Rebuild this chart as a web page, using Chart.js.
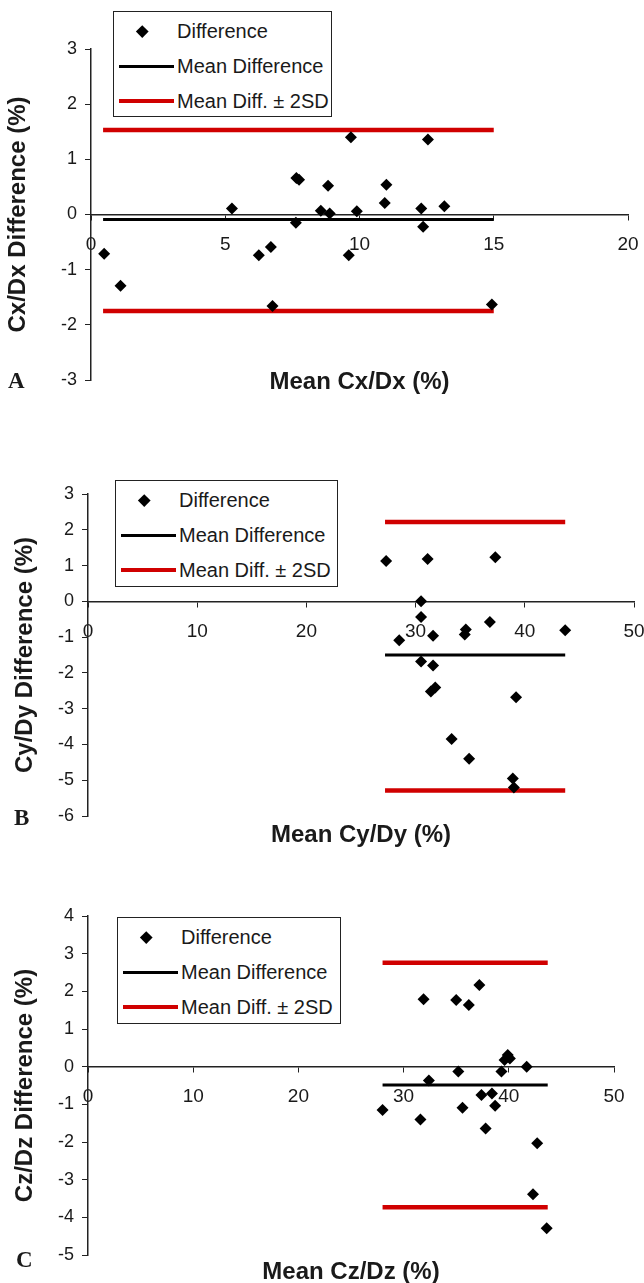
<!DOCTYPE html>
<html lang="en">
<head>
    <meta charset="UTF-8">
    <title>Difference vs Mean plots</title>
    <style>
        body {
            margin: 0;
            background-color: #fff;
            font-family: Arial, "Liberation Sans", sans-serif;
            color: #1a1a1a;
        }
        .panel {
            position: relative;
            width: 644px;
        }
        .panel canvas {
            display: block;
        }
        .letter {
            position: absolute;
            font-family: "Times New Roman", "Liberation Serif", serif;
            font-weight: bold;
            font-size: 23px;
            line-height: 24px;
        }
        .legend {
            position: absolute;
            box-sizing: border-box;
            border: 1.5px solid #222;
            background-color: #fff;
        }
        .legend .row {
            position: absolute;
            left: 0;
            width: 100%;
            height: 24px;
            line-height: 24px;
            font-size: 20px;
        }
        .legend .diamond {
            position: absolute;
            left: 24px;
            top: 7.5px;
            width: 8.5px;
            height: 8.5px;
            background-color: #000;
            transform: rotate(45deg);
        }
        .legend .line {
            position: absolute;
            left: 5px;
            width: 55px;
        }
        .legend .text {
            position: absolute;
            left: 63px;
            white-space: nowrap;
        }
    </style>
</head>
<body>
    <div class="panel" style="height: 420px;">
        <canvas id="chartA" width="644" height="420"></canvas>
        <div class="letter" style="left: 8px; top: 369px;">A</div>
    </div>
    <div class="panel" style="height: 430px;">
        <canvas id="chartB" width="644" height="430"></canvas>
        <div class="letter" style="left: 14px; top: 386px;">B</div>
    </div>
    <div class="panel" style="height: 433px;">
        <canvas id="chartC" width="644" height="433"></canvas>
        <div class="letter" style="left: 16px; top: 398px;">C</div>
    </div>

    <script src="https://cdn.jsdelivr.net/npm/chart.js"></script>
    <script>
        // Panel A: Cx/Dx
        const meanCxDx = [0.49, 1.1, 5.25, 6.25, 6.7, 6.76, 7.63, 7.65, 7.75, 8.56, 8.83, 8.89, 9.6, 9.68, 9.9, 10.94, 11.0, 12.3, 12.37, 12.55, 13.16, 14.93];
        const diffCxDx = [-0.71, -1.29, 0.11, -0.74, -0.59, -1.66, -0.15, 0.66, 0.63, 0.07, 0.52, 0.02, -0.74, 1.40, 0.06, 0.21, 0.54, 0.11, -0.22, 1.36, 0.15, -1.63];
        const rangeCxDx = [0.45, 15.0];
        const meanDiffCxDx = -0.09;
        const limitsCxDx = [1.53, -1.75];

        // Panel B: Cy/Dy
        const meanCyDy = [27.3, 28.5, 30.5, 30.5, 30.5, 31.1, 31.6, 31.6, 31.4, 31.8, 33.3, 34.5, 34.6, 34.9, 36.8, 37.3, 38.9, 39.0, 39.2, 43.7];
        const diffCyDy = [1.13, -1.09, 0.0, -0.44, -1.68, 1.18, -0.96, -1.79, -2.52, -2.41, -3.85, -0.93, -0.79, -4.40, -0.58, 1.23, -4.95, -5.20, -2.68, -0.81];
        const rangeCyDy = [27.2, 43.7];
        const meanDiffCyDy = -1.5;
        const limitsCyDy = [2.22, -5.29];

        // Panel C: Cz/Dz
        const meanCzDz = [28.0, 31.6, 31.9, 32.4, 35.0, 35.2, 35.6, 36.2, 37.2, 37.4, 37.8, 38.4, 38.7, 39.3, 39.6, 39.9, 40.1, 41.7, 42.3, 42.7, 43.6];
        const diffCzDz = [-1.15, -1.40, 1.79, -0.37, 1.77, -0.13, -1.09, 1.64, 2.17, -0.75, -1.64, -0.71, -1.04, -0.13, 0.18, 0.31, 0.22, 0.0, -3.39, -2.03, -4.29];
        const rangeCzDz = [28.0, 43.7];
        const meanDiffCzDz = -0.49;
        const limitsCzDz = [2.76, -3.73];

        const legendLabels = ['Difference', 'Mean Difference', 'Mean Diff. \u00B1 2SD'];

        Chart.defaults.font.family = 'Arial, "Liberation Sans", sans-serif';
        Chart.defaults.color = '#1a1a1a';

        function hLine(range, value) {
            return [{ x: range[0], y: value }, { x: range[1], y: value }];
        }

        function makeChart(canvasId, s) {
            const ctx = document.getElementById(canvasId);
            return new Chart(ctx, {
                type: 'scatter',
                data: {
                    datasets: [
                        {
                            label: legendLabels[0],
                            data: s.x.map((v, i) => ({ x: v, y: s.y[i] })),
                            pointStyle: 'rectRot',
                            pointRadius: 6,
                            backgroundColor: '#000',
                            borderColor: '#000',
                            borderWidth: 0
                        },
                        {
                            label: legendLabels[1],
                            type: 'line',
                            data: hLine(s.range, s.mean),
                            borderColor: '#000',
                            borderWidth: 3,
                            pointRadius: 0
                        },
                        {
                            label: legendLabels[2],
                            type: 'line',
                            data: hLine(s.range, s.limits[0]),
                            borderColor: '#d00000',
                            borderWidth: 4.5,
                            pointRadius: 0
                        },
                        {
                            label: legendLabels[2],
                            type: 'line',
                            data: hLine(s.range, s.limits[1]),
                            borderColor: '#d00000',
                            borderWidth: 4.5,
                            pointRadius: 0
                        }
                    ]
                },
                options: {
                    responsive: false,
                    animation: false,
                    layout: { padding: s.padding },
                    plugins: {
                        legend: { display: false },
                        tooltip: { enabled: false }
                    },
                    scales: {
                        x: {
                            type: 'linear',
                            position: { y: 0 },
                            min: s.xMin,
                            max: s.xMax,
                            ticks: { stepSize: s.xStep, padding: 14, font: { size: 19 } },
                            grid: { drawOnChartArea: false, tickLength: 5, color: '#222' },
                            border: { color: '#222', width: 1.5 },
                            title: {
                                display: true,
                                text: s.xTitle,
                                padding: 0,
                                font: { size: 24, weight: 'bold' }
                            },
                            afterFit: scale => {
                                // title sits at the bottom of the panel, last label may run off the edge
                                scale.height = s.xTitleDrop;
                                scale.paddingRight = 0;
                            }
                        },
                        y: {
                            position: 'left',
                            min: s.yMin,
                            max: s.yMax,
                            ticks: { stepSize: 1, padding: 8, font: { size: 18 } },
                            grid: { drawOnChartArea: false, tickLength: 6, color: '#222' },
                            border: { color: '#222', width: 1.5 },
                            title: {
                                display: true,
                                text: s.yTitle,
                                padding: { top: s.yTitlePad, bottom: 0 },
                                font: { size: 24, weight: 'bold' }
                            },
                            afterFit: scale => { scale.width = s.yWidth; }
                        }
                    }
                }
            });
        }

        function makeLegend(chart, box) {
            const legend = document.createElement('div');
            legend.className = 'legend';
            legend.style.left = box.left + 'px';
            legend.style.top = box.top + 'px';
            legend.style.width = box.width + 'px';
            legend.style.height = box.height + 'px';
            chart.data.datasets.slice(0, 3).forEach((ds, i) => {
                const row = document.createElement('div');
                row.className = 'row';
                row.style.top = (7 + i * 35) + 'px';
                const key = document.createElement('span');
                if (ds.type === 'line') {
                    key.className = 'line';
                    key.style.top = (12 - ds.borderWidth / 2) + 'px';
                    key.style.height = ds.borderWidth + 'px';
                    key.style.backgroundColor = ds.borderColor;
                } else {
                    key.className = 'diamond';
                }
                const text = document.createElement('span');
                text.className = 'text';
                text.textContent = ds.label;
                row.appendChild(key);
                row.appendChild(text);
                legend.appendChild(row);
            });
            chart.canvas.parentNode.appendChild(legend);
        }

        const chartA = makeChart('chartA', {
            x: meanCxDx, y: diffCxDx, range: rangeCxDx, mean: meanDiffCxDx, limits: limitsCxDx,
            xMin: 0, xMax: 20, xStep: 5, yMin: -3, yMax: 3,
            xTitle: 'Mean Cx/Dx (%)', yTitle: 'Cx/Dx Difference (%)',
            padding: { top: 49, bottom: 40, left: 0, right: 16 },
            yWidth: 91, yTitlePad: 4, xTitleDrop: 182
        });
        makeLegend(chartA, { left: 113, top: 11, width: 219, height: 106 });

        const chartB = makeChart('chartB', {
            x: meanCyDy, y: diffCyDy, range: rangeCyDy, mean: meanDiffCyDy, limits: limitsCyDy,
            xMin: 0, xMax: 50, xStep: 10, yMin: -6, yMax: 3,
            xTitle: 'Mean Cy/Dy (%)', yTitle: 'Cy/Dy Difference (%)',
            padding: { top: 74, bottom: 34, left: 0, right: 10 },
            yWidth: 88, yTitlePad: 11, xTitleDrop: 248
        });
        makeLegend(chartB, { left: 115, top: 60, width: 223, height: 107 });

        const chartC = makeChart('chartC', {
            x: meanCzDz, y: diffCzDz, range: rangeCzDz, mean: meanDiffCzDz, limits: limitsCzDz,
            xMin: 0, xMax: 50, xStep: 10, yMin: -5, yMax: 4,
            xTitle: 'Mean Cz/Dz (%)', yTitle: 'Cz/Dz Difference (%)',
            padding: { top: 66, bottom: 28, left: 0, right: 30 },
            yWidth: 88, yTitlePad: 11, xTitleDrop: 220
        });
        makeLegend(chartC, { left: 117, top: 67, width: 224, height: 107 });
    </script>
</body>
</html>
